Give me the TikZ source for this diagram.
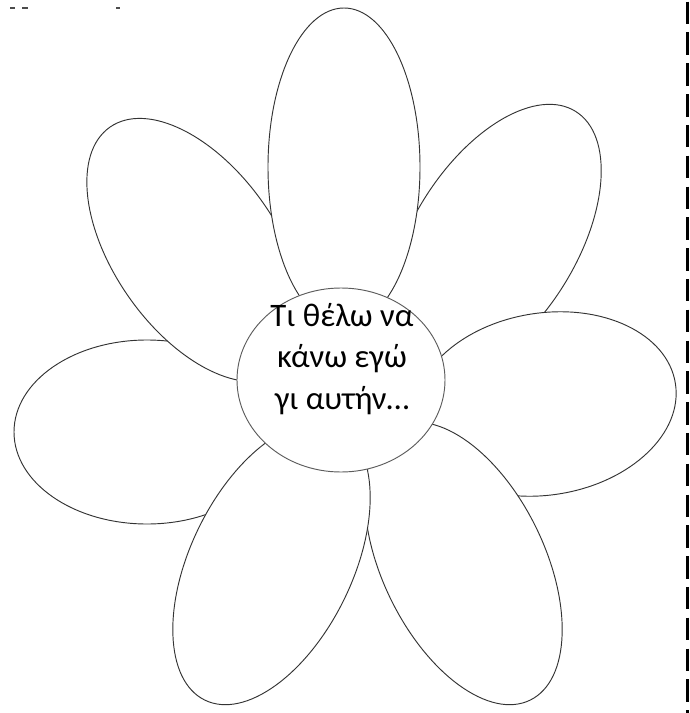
\documentclass[tikz,border=0pt]{standalone}
\usepackage{fontspec}
\setmainfont{Carlito}
\usetikzlibrary{shapes.geometric}
\definecolor{petalline}{HTML}{333333}
\tikzset{
  petal/.style={draw=petalline,fill=white,ellipse,inner sep=0pt,line width=0.7pt},
  disc/.style={draw=petalline!80,fill=white,ellipse,inner sep=0pt,line width=0.7pt,minimum width=156pt,minimum height=138pt},
  question/.style={align=center,inner sep=0pt,font=\fontsize{24.6}{31.1}\selectfont},
  cutline/.style={line width=2.6pt,dash pattern=on 16.9pt off 6.2pt},
  scrap/.style={line width=1.2pt,black!70}
}
\begin{document}
\begin{tikzpicture}[x=0.75pt,y=-0.75pt]
  \useasboundingbox (0,0) rectangle (689,713);
  % petals, back to front
  \node[petal,minimum width=199.5pt,minimum height=138pt] (left) at (147,432) {};
  \node[petal,minimum width=225pt,minimum height=123pt,rotate=-55] (upleft) at (196,250) {};
  \node[petal,minimum width=231pt,minimum height=123pt,rotate=58] (upright) at (494,242) {};
  \node[petal,minimum width=114pt,minimum height=238.5pt] (top) at (344,167) {};
  \node[petal,minimum width=198pt,minimum height=136.5pt,rotate=9] (right) at (545,404) {};
  \node[petal,minimum width=228pt,minimum height=121.5pt,rotate=-64] (downright) at (463.5,563.5) {};
  \node[petal,minimum width=228pt,minimum height=121.5pt,rotate=64] (downleft) at (271.5,563.5) {};

  % heart of the flower
  \node[disc] (heart) at (341,380) {};
  \node[question] (ask) at (342,359) {Τι θέλω να\\κάνω εγώ\\γι αυτήν…};

  % cut line on the right
  \coordinate (cuttop) at (687.5,1.7);
  \coordinate (cutbottom) at (687.5,713);
  \draw[cutline] (cuttop) -- (cutbottom);

  % bits of text cut off at the top
  \draw[scrap] (10,8) -- (15,8);
  \draw[scrap] (22,8) -- (28,8);
  \draw[scrap] (116,8) -- (120,8);
\end{tikzpicture}
\end{document}
